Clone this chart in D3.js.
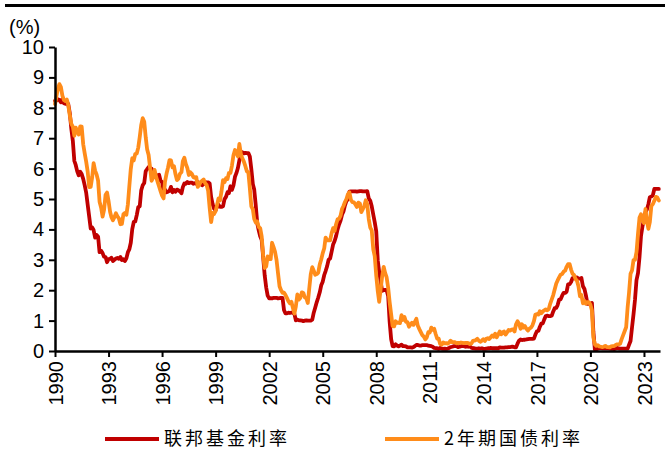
<!DOCTYPE html>
<html>
<head>
<meta charset="utf-8">
<script src="https://cdn.jsdelivr.net/npm/d3@7"></script>
<style>
  body { margin: 0; background: #fff; }
  svg { display: block; }
</style>
</head>
<body>
<svg width="671" height="464"></svg>
<script>
// monthly values, Jan 1990 .. Nov 2023
var fedFunds = [
  8.23, 8.24, 8.28, 8.26, 8.18, 8.29, 8.15, 8.13, 8.20, 8.11, 7.81, 7.31,
  6.91, 6.25, 6.12, 5.91, 5.78, 5.90, 5.82, 5.66, 5.45, 5.21, 4.81, 4.43,
  4.03, 4.06, 3.98, 3.73, 3.82, 3.76, 3.25, 3.30, 3.22, 3.10, 3.09, 2.92,
  3.02, 3.03, 3.07, 2.96, 3.00, 3.04, 3.06, 3.03, 3.09, 2.99, 3.02, 2.96,
  3.05, 3.25, 3.34, 3.56, 4.01, 4.25, 4.26, 4.47, 4.73, 4.76, 5.29, 5.45,
  5.53, 5.92, 5.98, 6.05, 6.01, 6.00, 5.85, 5.74, 5.80, 5.76, 5.80, 5.60,
  5.56, 5.22, 5.31, 5.22, 5.24, 5.27, 5.40, 5.22, 5.30, 5.24, 5.31, 5.29,
  5.25, 5.19, 5.39, 5.51, 5.50, 5.56, 5.52, 5.54, 5.54, 5.50, 5.52, 5.50,
  5.56, 5.51, 5.49, 5.45, 5.49, 5.56, 5.54, 5.55, 5.51, 5.07, 4.83, 4.68,
  4.63, 4.76, 4.81, 4.74, 4.74, 4.76, 4.99, 5.07, 5.22, 5.20, 5.42, 5.30,
  5.45, 5.73, 5.85, 6.02, 6.27, 6.53, 6.54, 6.50, 6.52, 6.51, 6.51, 6.40,
  5.98, 5.49, 5.31, 4.80, 4.21, 3.97, 3.77, 3.65, 3.07, 2.49, 2.09, 1.82,
  1.73, 1.74, 1.73, 1.75, 1.75, 1.75, 1.73, 1.74, 1.75, 1.75, 1.34, 1.24,
  1.24, 1.26, 1.25, 1.26, 1.26, 1.22, 1.01, 1.03, 1.01, 1.01, 1.00, 0.98,
  1.00, 1.01, 1.00, 1.00, 1.00, 1.03, 1.26, 1.43, 1.61, 1.76, 1.93, 2.16,
  2.28, 2.50, 2.63, 2.79, 3.00, 3.04, 3.26, 3.50, 3.62, 3.78, 4.00, 4.16,
  4.29, 4.49, 4.59, 4.79, 4.94, 4.99, 5.24, 5.25, 5.25, 5.25, 5.25, 5.24,
  5.25, 5.26, 5.26, 5.25, 5.25, 5.25, 5.26, 5.02, 4.94, 4.76, 4.49, 4.24,
  3.94, 2.98, 2.61, 2.28, 1.98, 2.00, 2.01, 2.00, 1.81, 0.97, 0.39, 0.16,
  0.15, 0.22, 0.18, 0.15, 0.18, 0.21, 0.16, 0.16, 0.15, 0.12, 0.12, 0.12,
  0.11, 0.13, 0.16, 0.20, 0.20, 0.18, 0.18, 0.19, 0.19, 0.19, 0.19, 0.18,
  0.17, 0.16, 0.14, 0.10, 0.09, 0.09, 0.07, 0.10, 0.08, 0.07, 0.08, 0.07,
  0.08, 0.10, 0.13, 0.14, 0.16, 0.16, 0.16, 0.13, 0.14, 0.16, 0.16, 0.16,
  0.14, 0.15, 0.14, 0.15, 0.11, 0.09, 0.09, 0.08, 0.08, 0.09, 0.08, 0.09,
  0.07, 0.07, 0.08, 0.09, 0.09, 0.10, 0.09, 0.09, 0.09, 0.09, 0.09, 0.12,
  0.11, 0.11, 0.11, 0.12, 0.12, 0.13, 0.13, 0.14, 0.14, 0.12, 0.12, 0.24,
  0.34, 0.38, 0.36, 0.37, 0.37, 0.38, 0.39, 0.40, 0.40, 0.40, 0.41, 0.54,
  0.65, 0.66, 0.79, 0.90, 0.91, 1.04, 1.15, 1.16, 1.15, 1.15, 1.16, 1.30,
  1.41, 1.42, 1.51, 1.69, 1.70, 1.82, 1.91, 1.91, 1.95, 2.19, 2.20, 2.27,
  2.40, 2.40, 2.41, 2.42, 2.38, 2.38, 2.40, 2.13, 2.04, 1.83, 1.55, 1.55,
  1.55, 1.58, 0.65, 0.05, 0.05, 0.08, 0.09, 0.10, 0.09, 0.09, 0.09, 0.09,
  0.09, 0.08, 0.07, 0.07, 0.06, 0.08, 0.10, 0.09, 0.08, 0.08, 0.08, 0.08,
  0.08, 0.08, 0.20, 0.33, 0.77, 1.21, 1.68, 2.33, 2.56, 3.08, 3.78, 4.10,
  4.33, 4.57, 4.65, 4.83, 5.06, 5.08, 5.12, 5.33, 5.33, 5.33, 5.33
];

var twoYear = [
  8.12, 8.39, 8.63, 8.78, 8.69, 8.40, 8.26, 8.22, 8.27, 8.07, 7.74, 7.47,
  7.38, 7.08, 7.35, 7.23, 7.12, 7.39, 7.38, 6.80, 6.50, 6.23, 5.90, 5.39,
  5.40, 5.72, 6.18, 5.93, 5.81, 5.60, 4.91, 4.72, 4.42, 4.64, 5.14, 5.21,
  4.93, 4.58, 4.40, 4.30, 4.40, 4.53, 4.43, 4.36, 4.17, 4.18, 4.50, 4.54,
  4.48, 4.83, 5.40, 5.99, 6.34, 6.27, 6.48, 6.50, 6.69, 7.04, 7.44, 7.66,
  7.54, 7.02, 6.64, 6.45, 6.03, 5.60, 5.70, 5.96, 5.73, 5.57, 5.41, 5.26,
  5.11, 5.02, 5.57, 5.83, 6.03, 6.28, 6.27, 6.04, 6.08, 5.82, 5.62, 5.67,
  5.83, 5.88, 6.24, 6.36, 6.15, 6.02, 5.79, 5.88, 5.83, 5.72, 5.70, 5.72,
  5.40, 5.47, 5.56, 5.60, 5.64, 5.52, 5.46, 5.27, 4.71, 4.24, 4.54, 4.51,
  4.60, 4.81, 5.02, 4.95, 5.25, 5.62, 5.55, 5.68, 5.66, 5.86, 5.86, 6.10,
  6.44, 6.61, 6.53, 6.40, 6.81, 6.48, 6.34, 6.23, 6.08, 5.91, 5.88, 5.35,
  4.76, 4.66, 4.34, 4.23, 4.26, 4.08, 4.04, 3.76, 3.12, 2.73, 2.78, 3.11,
  3.03, 3.02, 3.56, 3.42, 3.26, 2.99, 2.56, 2.13, 2.00, 1.91, 1.92, 1.84,
  1.74, 1.63, 1.57, 1.62, 1.42, 1.23, 1.47, 1.86, 1.69, 1.75, 1.93, 1.91,
  1.76, 1.74, 1.58, 2.07, 2.53, 2.76, 2.64, 2.51, 2.53, 2.58, 2.85, 3.01,
  3.22, 3.38, 3.73, 3.65, 3.64, 3.64, 3.87, 4.04, 3.95, 4.17, 4.33, 4.35,
  4.45, 4.68, 4.77, 4.90, 5.00, 5.16, 5.22, 4.97, 4.90, 4.89, 4.82, 4.74,
  4.88, 4.85, 4.57, 4.67, 4.77, 4.96, 4.82, 4.34, 4.06, 3.97, 3.34, 3.12,
  2.48, 1.97, 1.62, 2.05, 2.45, 2.77, 2.57, 2.42, 2.08, 1.61, 1.21, 0.82,
  0.81, 0.98, 0.93, 0.93, 0.92, 1.18, 1.02, 1.12, 0.96, 0.95, 0.80, 0.87,
  0.93, 0.86, 0.96, 1.06, 0.83, 0.72, 0.62, 0.52, 0.47, 0.38, 0.45, 0.62,
  0.61, 0.77, 0.70, 0.73, 0.56, 0.41, 0.41, 0.23, 0.21, 0.28, 0.25, 0.26,
  0.24, 0.28, 0.34, 0.29, 0.29, 0.29, 0.25, 0.27, 0.26, 0.28, 0.27, 0.26,
  0.27, 0.27, 0.26, 0.23, 0.25, 0.33, 0.34, 0.36, 0.40, 0.34, 0.30, 0.34,
  0.39, 0.33, 0.40, 0.42, 0.39, 0.45, 0.51, 0.47, 0.57, 0.45, 0.54, 0.64,
  0.55, 0.62, 0.64, 0.54, 0.61, 0.69, 0.67, 0.70, 0.71, 0.64, 0.88, 0.98,
  0.90, 0.73, 0.88, 0.77, 0.82, 0.73, 0.67, 0.74, 0.77, 0.84, 0.98, 1.20,
  1.21, 1.20, 1.31, 1.24, 1.30, 1.34, 1.37, 1.34, 1.38, 1.56, 1.70, 1.84,
  2.03, 2.22, 2.32, 2.42, 2.51, 2.53, 2.61, 2.64, 2.77, 2.86, 2.86, 2.68,
  2.54, 2.50, 2.37, 2.31, 2.13, 1.80, 1.84, 1.57, 1.65, 1.55, 1.61, 1.61,
  1.52, 1.33, 0.45, 0.22, 0.17, 0.19, 0.15, 0.14, 0.13, 0.14, 0.17, 0.13,
  0.13, 0.12, 0.15, 0.16, 0.16, 0.20, 0.22, 0.22, 0.24, 0.39, 0.52, 0.65,
  0.78, 1.44, 1.91, 2.54, 2.65, 2.99, 3.00, 3.25, 3.86, 4.38, 4.50, 4.29,
  4.21, 4.67, 4.30, 4.02, 4.24, 4.77, 4.83, 4.94, 5.07, 5.05, 4.95
];

var tickYears = [1990, 1993, 1996, 1999, 2002, 2005, 2008, 2011, 2014, 2017, 2020, 2023];
var yTicks = [0, 1, 2, 3, 4, 5, 6, 7, 8, 9, 10];
var seriesNames = ['联邦基金利率', '2年期国债利率'];
var seriesColors = ['#C00000', '#FF8C1A'];

var svg = d3.select('svg');
var fontEn = 'Arial, "Liberation Sans", sans-serif';
var fontCn = '"Noto Sans CJK SC", sans-serif';

var x = d3.scaleTime()
  .domain([new Date(1990, 0, 1), new Date(2023, 10, 25)])
  .range([55, 660]);
var y = d3.scaleLinear().domain([0, 10]).range([351, 47]);

function toPoints(arr) {
  return arr.map(function(v, i) {
    return { date: new Date(1990 + Math.floor(i / 12), i % 12, 1), v: v };
  });
}

// top rule
svg.append('line')
  .attr('x1', 5).attr('x2', 665).attr('y1', 5.5).attr('y2', 5.5)
  .attr('stroke', '#000').attr('stroke-width', 3);

// lines
var line = d3.line()
  .x(function(d) { return x(d.date); })
  .y(function(d) { return y(d.v); });

[fedFunds, twoYear].forEach(function(arr, i) {
  svg.append('path')
    .datum(toPoints(arr))
    .attr('d', line)
    .attr('fill', 'none')
    .attr('stroke', seriesColors[i])
    .attr('stroke-width', 3.8)
    .attr('stroke-linejoin', 'round')
    .attr('stroke-linecap', 'round');
});

// y axis
var yAxis = svg.append('g')
  .attr('transform', 'translate(55,0)')
  .call(d3.axisLeft(y).tickValues(yTicks).tickSize(6).tickSizeOuter(0).tickPadding(5));

// x axis
var xAxis = svg.append('g')
  .attr('transform', 'translate(0,351)')
  .call(d3.axisBottom(x)
    .tickValues(tickYears.map(function(yr) { return new Date(yr, 0, 1); }))
    .tickFormat(d3.timeFormat('%Y'))
    .tickSize(6).tickSizeOuter(0));

xAxis.selectAll('text')
  .attr('transform', 'rotate(-90)')
  .attr('text-anchor', 'end')
  .attr('x', -10)
  .attr('y', 0)
  .attr('dy', '0.36em');

[yAxis, xAxis].forEach(function(g) {
  g.select('.domain').attr('stroke', '#000').attr('stroke-width', 2.5);
  g.selectAll('.tick line').attr('stroke', '#000').attr('stroke-width', 2);
  g.selectAll('text')
    .attr('fill', '#000')
    .style('font-family', fontEn)
    .style('font-size', '20px');
});

// unit
svg.append('text')
  .attr('x', 9).attr('y', 34)
  .style('font-family', fontEn)
  .style('font-size', '20px')
  .text('(%)');

// legend
var legendX = [105, 385];
seriesNames.forEach(function(name, i) {
  svg.append('line')
    .attr('x1', legendX[i]).attr('x2', legendX[i] + 54)
    .attr('y1', 439).attr('y2', 439)
    .attr('stroke', seriesColors[i]).attr('stroke-width', 4);
  svg.append('text')
    .attr('x', legendX[i] + 59).attr('y', 439)
    .attr('dy', '0.36em')
    .style('font-family', fontCn)
    .style('font-size', '18px')
    .style('letter-spacing', '3px')
    .text(name);
});
</script>
</body>
</html>
